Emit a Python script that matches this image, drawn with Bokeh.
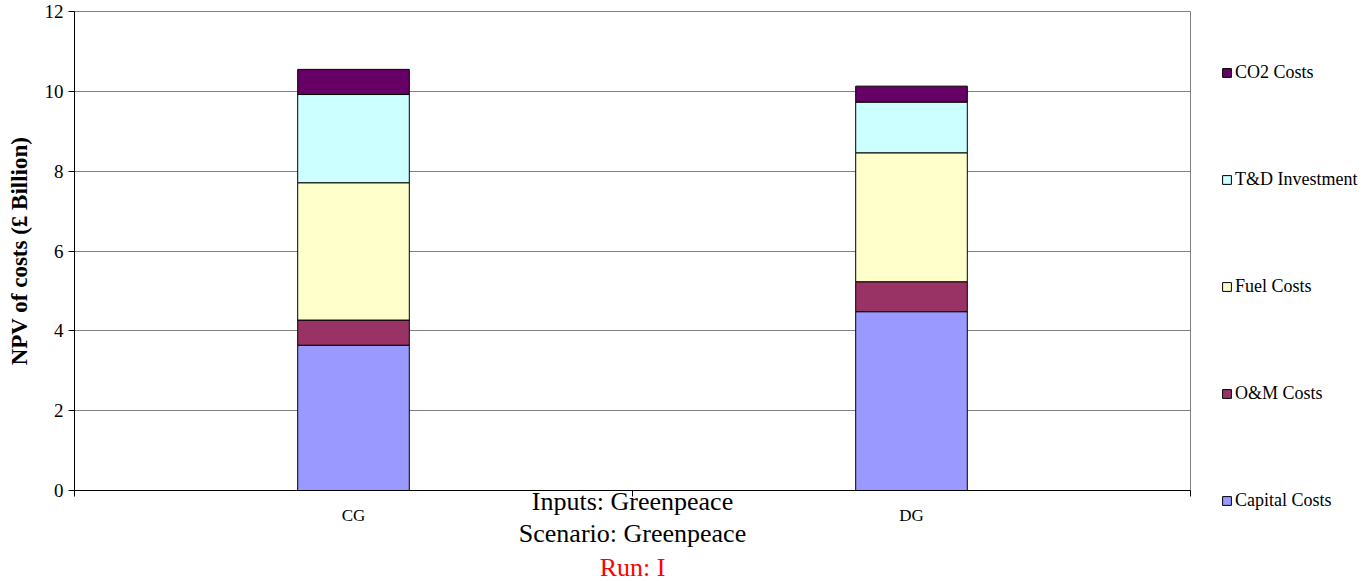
from bokeh.plotting import figure
from bokeh.layouts import row
from bokeh.models import (ColumnDataSource, Range1d, FixedTicker, Legend, LegendItem, Title)
from bokeh.embed import file_html
from bokeh.resources import INLINE

# Categories and stacked cost components (NPV, £ billion)
categories = ["CG", "DG"]
capital_costs = [3.64, 4.48]
om_costs = [0.63, 0.75]
fuel_costs = [3.44, 3.23]
td_investment = [2.21, 1.27]
co2_costs = [0.63, 0.40]

series_names = ["Capital Costs", "O&M Costs", "Fuel Costs", "T&D Investment", "CO2 Costs"]
series_keys = ["capital", "om", "fuel", "td", "co2"]
series_colors = ["#9999FF", "#993366", "#FFFFCC", "#CCFFFF", "#660066"]

y_ticks = [0, 2, 4, 6, 8, 10, 12]

caption_lines = ["Inputs: Greenpeace", "Scenario: Greenpeace"]
run_label = "Run: I"

FONT = "Liberation Serif"

x_pos = [i + 0.5 for i in range(len(categories))]
source = ColumnDataSource(dict(
    x=x_pos, cat=categories,
    capital=capital_costs, om=om_costs, fuel=fuel_costs, td=td_investment, co2=co2_costs,
))

p = figure(width=1191, height=581, output_backend="svg", toolbar_location=None,
           x_range=Range1d(0, len(categories)), y_range=Range1d(0, 12),
           min_border_left=74, min_border_right=1, min_border_top=11, min_border_bottom=90)
p.frame_align = False
p.background_fill_color = "white"
p.border_fill_color = "white"
p.outline_line_color = "#808080"
p.outline_line_width = 1

renderers = p.vbar_stack(series_keys, x="x", width=0.2, source=source,
                         color=series_colors, line_color="black", line_width=1)
for r in renderers:
    r.glyph.line_color = "black"

# y axis
p.yaxis.ticker = FixedTicker(ticks=y_ticks)
p.yaxis.axis_label = "NPV of costs (£ Billion)"
p.yaxis.axis_label_text_font = FONT
p.yaxis.axis_label_text_font_style = "bold"
p.yaxis.axis_label_text_font_size = "23px"
p.yaxis.axis_label_text_color = "black"
p.yaxis.axis_label_standoff = 10
p.yaxis.major_label_text_font = FONT
p.yaxis.major_label_text_font_size = "19px"
p.yaxis.major_label_text_color = "black"
p.yaxis.major_label_standoff = 5
p.yaxis.major_tick_out = 6
p.yaxis.major_tick_in = 0
p.yaxis.minor_tick_line_color = None
p.yaxis.axis_line_color = "black"
p.yaxis.major_tick_line_color = "black"

# x axis: labels centred on categories, tick marks at category boundaries
p.xaxis.ticker = FixedTicker(ticks=x_pos, minor_ticks=list(range(len(categories) + 1)))
p.xaxis.major_label_overrides = {x: c for x, c in zip(x_pos, categories)}
p.xaxis.major_label_text_font = FONT
p.xaxis.major_label_text_font_size = "17px"
p.xaxis.major_label_text_color = "black"
p.xaxis.major_label_standoff = 9
p.xaxis.major_tick_out = 0
p.xaxis.major_tick_in = 0
p.xaxis.minor_tick_out = 6
p.xaxis.minor_tick_in = 0
p.xaxis.minor_tick_line_color = "black"
p.xaxis.axis_line_color = "black"

# caption lines sit under the axis, level with the category labels
p.xaxis.axis_label = "\n".join(caption_lines)
p.xaxis.axis_label_text_font = FONT
p.xaxis.axis_label_text_font_size = "26px"
p.xaxis.axis_label_text_font_style = "normal"
p.xaxis.axis_label_text_color = "black"
p.xaxis.axis_label_text_line_height = 1.12
p.xaxis.axis_label_standoff = -41

p.add_layout(Title(text=run_label, align="center", text_color="red", text_font=FONT,
                   text_font_size="26px", text_font_style="normal", standoff=0), "below")

p.xgrid.grid_line_color = None
p.ygrid.ticker = FixedTicker(ticks=y_ticks)
p.ygrid.grid_line_color = "#808080"
p.ygrid.grid_line_width = 1

# legend panel to the right of the chart; its swatch renderers lie outside the visible ranges
lg = figure(width=176, height=581, output_backend="svg", toolbar_location=None,
            x_range=Range1d(100, 101), y_range=Range1d(100, 101),
            x_axis_type=None, y_axis_type=None,
            min_border_left=0, min_border_right=0, min_border_top=0, min_border_bottom=0)
lg.frame_align = False
lg.outline_line_color = None
lg.background_fill_color = "white"
lg.border_fill_color = "white"
lg.grid.visible = False
swatches = lg.vbar_stack(series_keys, x="x", width=0.2, source=source,
                         color=series_colors, line_color="black", line_width=1)
for r in swatches:
    r.glyph.line_color = "black"
items = [LegendItem(label=n, renderers=[r]) for n, r in zip(series_names, swatches)][::-1]
legend = Legend(items=items, location=(30, 70), orientation="vertical",
                label_text_font=FONT, label_text_font_size="18px", label_text_color="black",
                glyph_width=11, glyph_height=11, label_height=20, label_standoff=3,
                spacing=86, padding=0, margin=0,
                border_line_color=None, background_fill_alpha=0)
lg.add_layout(legend, "center")

open("out.html", "w").write(file_html(row(p, lg), INLINE))
